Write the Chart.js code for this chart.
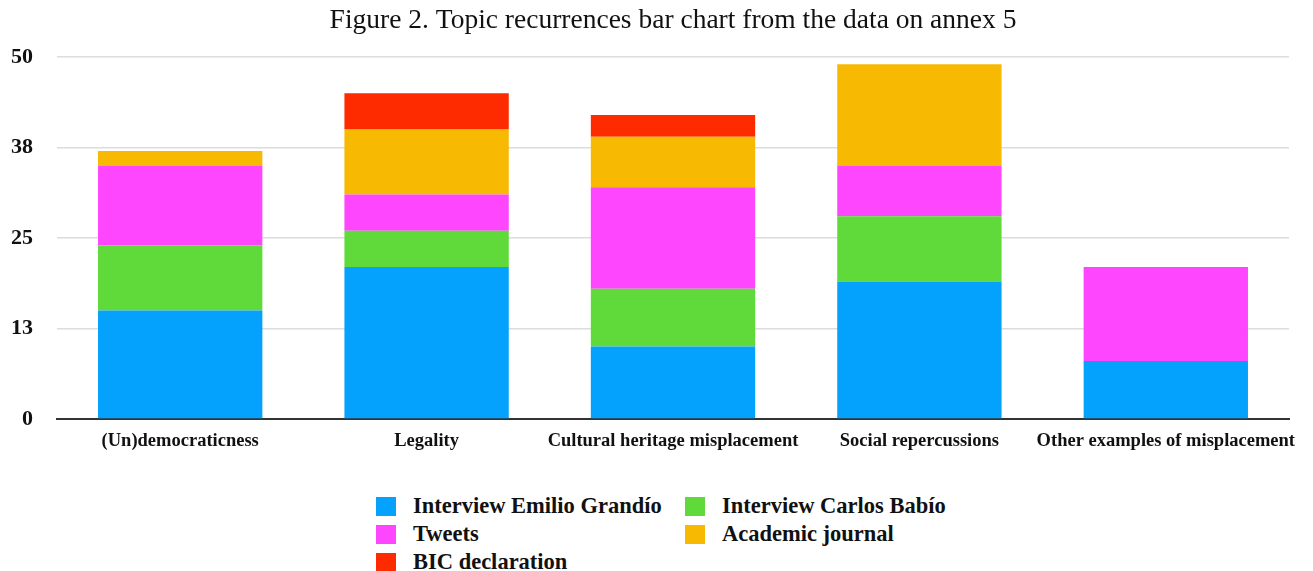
<!DOCTYPE html>
<html>
<head>
<meta charset="utf-8">
<script src="https://cdn.jsdelivr.net/npm/chart.js@4.4.0/dist/chart.umd.min.js"></script>
<style>
  html, body { margin: 0; padding: 0; background: #fff; }
  #wrap { position: relative; width: 1313px; height: 571px; overflow: hidden; }
  #chart { position: absolute; left: 0; top: 0; }
  #legend {
    position: absolute; left: 376px; top: 492px;
    display: grid; grid-template-columns: 309px auto;
    font: bold 22.5px "Liberation Serif", "Times New Roman", serif; color: #111;
  }
  #legend .item { display: flex; align-items: center; height: 28px; white-space: nowrap; }
  #legend .box { width: 20px; height: 19px; margin-right: 17px; flex: none; }
</style>
</head>
<body>
<div id="wrap">
  <canvas id="chart" width="1313" height="457"></canvas>
  <div id="legend"></div>
</div>
<script>
// ===== Data =====
const categories = [
  "(Un)democraticness",
  "Legality",
  "Cultural heritage misplacement",
  "Social repercussions",
  "Other examples of misplacement",
];
const seriesNames = [
  "Interview Emilio Grandío",
  "Interview Carlos Babío",
  "Tweets",
  "Academic journal",
  "BIC declaration",
];
const emilio = [15, 21, 10, 19, 8];
const carlos = [9, 5, 8, 9, 0];
const tweets = [11, 5, 14, 7, 13];
const academic = [2, 9, 7, 14, 0];
const bic = [0, 5, 3, 0, 0];
const colors = ["#04a2fd", "#60da3a", "#fd46fd", "#f8b902", "#fe2a00"];

const yMax = 50;
const yStep = 12.5;

const serif = "'Liberation Serif', 'Times New Roman', serif";

const datasets = [emilio, carlos, tweets, academic, bic].map((vals, i) => ({
  label: seriesNames[i],
  data: vals,
  backgroundColor: colors[i],
  borderWidth: 0,
  barPercentage: 0.667,
  categoryPercentage: 1,
}));

const chart = new Chart(document.getElementById("chart"), {
  type: "bar",
  data: { labels: categories, datasets },
  options: {
    responsive: false,
    animation: false,
    layout: { padding: { left: 0, right: 24, top: 0, bottom: 0 } },
    plugins: {
      legend: { display: false },
      tooltip: { enabled: false },
      title: {
        display: true,
        text: "Figure 2. Topic recurrences bar chart from the data on annex 5",
        color: "#111",
        font: { family: serif, size: 27.5, weight: "normal" },
        padding: { top: 4, bottom: 20 },
        fullSize: false,
      },
    },
    scales: {
      x: {
        stacked: true,
        grid: { display: false },
        border: { display: true, color: "#333", width: 2 },
        afterFit: (scale) => {
          scale.height = 38;
        },
        ticks: {
          color: "#111",
          padding: 3,
          maxRotation: 0,
          autoSkip: false,
          font: { family: serif, size: 18.5, weight: "bold" },
        },
      },
      y: {
        stacked: true,
        min: 0,
        max: yMax,
        border: { display: false },
        grid: { color: "#dcdcdc", lineWidth: 1.5, drawTicks: false },
        afterFit: (scale) => {
          scale.width = 57;
        },
        ticks: {
          stepSize: yStep,
          padding: 24,
          color: "#111",
          font: { family: serif, size: 22, weight: "bold" },
          callback: (v) => Math.round(v),
        },
      },
    },
  },
});

// html legend, 2 columns like the original
const legendEl = document.getElementById("legend");
chart.data.datasets.forEach((ds) => {
  legendEl.insertAdjacentHTML(
    "beforeend",
    `<div class="item"><span class="box" style="background:${ds.backgroundColor}"></span>${ds.label}</div>`
  );
});
</script>
</body>
</html>
